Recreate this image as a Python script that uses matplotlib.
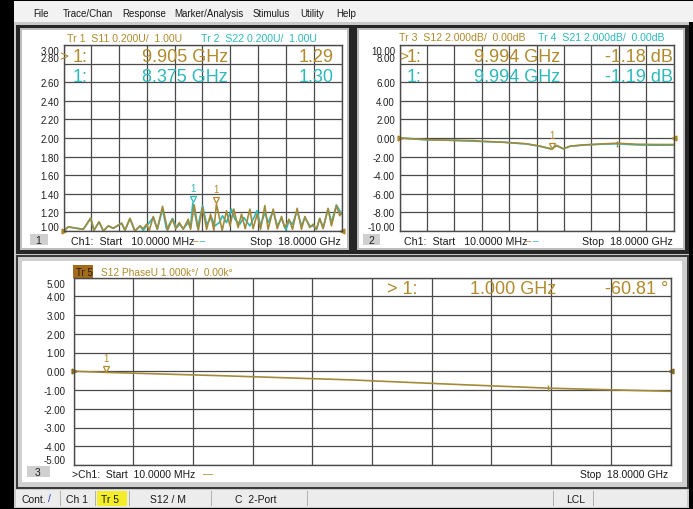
import numpy as np
import matplotlib
matplotlib.use("Agg")
import matplotlib.pyplot as plt
from matplotlib.patches import Rectangle
from matplotlib import transforms

# ---- values (frequency in GHz) ----
# window 1: S11 / S22 SWR (U)
s11_freq = [0.01, 0.32, 1.29, 1.77, 1.98, 2.31, 2.59, 2.91, 3.23, 3.77, 3.99, 4.31, 4.63,
            4.96, 5.17, 5.39, 5.56, 5.82, 6.08, 6.42, 6.75, 7.05, 7.28, 7.50, 7.76, 8.08,
            8.23, 8.47, 8.73, 9.01, 9.27, 9.53, 9.74, 9.905, 10.28, 10.56, 10.78, 11.03,
            11.31, 11.53, 11.77, 12.07, 12.28, 12.54, 12.76, 13.04, 13.25, 13.58, 13.84,
            14.12, 14.33, 14.61, 14.83, 15.13, 15.41, 15.63, 15.95, 16.16, 16.38, 16.59,
            16.81, 17.13, 17.35, 17.67, 17.89, 18.0]
s11_vals = [1.00, 1.044, 1.018, 1.138, 1.007, 1.098, 1.00, 1.055, 1.029, 1.084, 1.007, 1.135,
            1.00, 1.055, 1.025, 1.073, 1.007, 1.156, 1.018, 1.265, 1.007, 1.127, 1.025, 1.091,
            1.018, 1.127, 1.018, 1.28, 1.007, 1.255, 1.018, 1.182, 1.007, 1.29, 1.007, 1.218,
            1.055, 1.236, 1.036, 1.182, 1.025, 1.236, 1.025, 1.182, 1.018, 1.273, 1.018,
            1.236, 1.025, 1.156, 1.036, 1.127, 1.018, 1.244, 1.018, 1.156, 1.036, 1.073,
            1.018, 1.135, 1.025, 1.244, 1.055, 1.273, 1.164, 1.20]

s22_freq = [0.01, 0.32, 1.29, 1.77, 1.98, 2.31, 2.59, 2.91, 3.23, 3.77, 3.99, 4.31, 4.63,
            4.96, 5.17, 5.39, 5.82, 6.08, 6.42, 6.68, 7.07, 7.33, 7.54, 7.76, 8.08, 8.23,
            8.375, 8.69, 9.01, 9.27, 9.59, 9.81, 10.09, 10.30, 10.56, 10.88, 11.10, 11.42,
            11.68, 12.07, 12.28, 12.54, 12.76, 13.04, 13.25, 13.58, 13.84, 14.12, 14.40,
            14.61, 14.83, 15.13, 15.41, 15.63, 15.95, 16.16, 16.38, 16.59, 16.81, 17.13,
            17.35, 17.67, 17.89, 18.0]
s22_vals = [1.00, 1.044, 1.018, 1.138, 1.007, 1.098, 1.00, 1.055, 1.029, 1.084, 1.007, 1.135,
            1.00, 1.055, 1.007, 1.055, 1.145, 1.018, 1.236, 1.018, 1.135, 1.036, 1.073, 1.025,
            1.091, 1.036, 1.30, 1.036, 1.273, 1.073, 1.145, 1.055, 1.091, 1.164, 1.091, 1.236,
            1.127, 1.073, 1.145, 1.055, 1.127, 1.218, 1.055, 1.20, 1.091, 1.218, 1.055, 1.135,
            1.011, 1.109, 1.073, 1.218, 1.055, 1.145, 1.055, 1.055, 1.018, 1.135, 1.036,
            1.236, 1.091, 1.28, 1.218, 1.182]

# window 2: S12 / S21 log mag (dB)
s12_freq = [0.01, 1.79, 3.54, 4.9, 5.29, 6.83, 8.36, 9.24, 9.994, 10.33, 10.77, 11.20, 12.08,
            13.39, 14.27, 15.58, 16.89, 18.0]
s12_vals = [0.0, -0.18, -0.25, -0.28, -0.35, -0.45, -0.63, -0.88, -1.18, -0.80, -1.16, -0.88,
            -0.74, -0.63, -0.56, -0.67, -0.70, -0.70]
s21_freq = [0.01, 1.79, 3.54, 5.29, 6.83, 8.36, 9.24, 9.994, 10.33, 10.77, 11.20, 12.08,
            13.39, 14.27, 15.58, 16.89, 18.0]
s21_vals = [0.0, -0.19, -0.26, -0.36, -0.46, -0.64, -0.89, -1.19, -0.82, -1.17, -0.90,
            -0.76, -0.66, -0.62, -0.74, -0.78, -0.76]

# window 3: S12 unwrapped phase (k deg)
ph_freq = [0.01, 1.0, 4.5, 8.35, 11.5, 14.3, 16.0, 18.0]
ph_vals = [0.0, -0.061, -0.24, -0.46, -0.70, -0.90, -0.98, -1.07]

# marker readouts
mk_s11 = (9.905, 1.29)
mk_s22 = (8.375, 1.30)
mk_s12 = (9.994, -1.18)
mk_ph = (1.0, -0.06081)

menu_items = ["File", "Trace/Chan", "Response", "Marker/Analysis", "Stimulus", "Utility", "Help"]
menu_x = [33, 63, 122, 174, 253, 300, 336]

GOLD = "#B08A2C"
GOLD_TR = "#A38A3A"
TEAL = "#2DB8BB"
GRID = "#4A4A4A"

plt.rcParams["font.family"] = ["Liberation Sans", "DejaVu Sans"]

W, H = 693, 510
fig = plt.figure(figsize=(W / 100, H / 100), dpi=100, facecolor="black")


def rect(x0, y0, x1, y1, color, z=-5, ec="none"):
    fig.add_artist(Rectangle((x0 / W, 1 - y1 / H), (x1 - x0) / W, (y1 - y0) / H,
                             transform=fig.transFigure, facecolor=color, edgecolor=ec,
                             lw=0.8, zorder=z))


def ptext(x, y, s, **kw):
    kw.setdefault("va", "center")
    fig.text(x / W, 1 - y / H, s, **kw)


def new_axes(x0, y0, x1, y1, xlim, ylim):
    ax = fig.add_axes([x0 / W, 1 - y1 / H, (x1 - x0) / W, (y1 - y0) / H])
    ax.set_xlim(*xlim)
    ax.set_ylim(*ylim)
    ax.set_xticks(np.linspace(xlim[0], xlim[1], 11))
    ax.set_yticks(np.linspace(ylim[0], ylim[1], 11))
    ax.grid(True, color=GRID, lw=0.9)
    ax.tick_params(length=0, labelbottom=False, labelleft=False)
    for sp in ax.spines.values():
        sp.set_color(GRID)
        sp.set_linewidth(1)
    return ax


def ylabels(ax, gap, shifts):
    vals = ax.get_yticks()[::-1]
    base = transforms.blended_transform_factory(ax.transAxes, ax.transData)
    for i, v in enumerate(vals):
        dy = shifts.get(i, 0)
        if i == len(vals) - 1:
            dy = shifts.get(-1, 0)
        tr = transforms.offset_copy(base, fig=fig, x=-gap, y=dy, units="dots")
        ax.text(0, v, f"{v:.2f}", transform=tr, ha="right", va="center_baseline",
                fontsize=7, color="#202020", clip_on=False)


def marker(ax, f, v, color, dy=4):
    tr = transforms.offset_copy(ax.transData, fig=fig, y=dy, units="dots")
    ax.plot([f], [v], marker="v", ms=5, mfc="none", mec=color, mew=0.9, transform=tr)
    ax.annotate("1", (f, v), xytext=(0, dy + 11), textcoords="offset pixels",
                ha="center", va="center", color=color, fontsize=7)


def ref_arrows(ax, v, color):
    tr = transforms.blended_transform_factory(ax.transAxes, ax.transData)
    ax.plot([0], [v], marker=">", ms=3.5, color=color, transform=tr, clip_on=False)
    ax.plot([1], [v], marker="<", ms=3.5, color=color, transform=tr, clip_on=False)


# ---- window chrome ----
rect(14, 2, 693, 23, "#F2F2F2")
rect(14, 23, 689, 509, "#C9C9C9")
for name, x in zip(menu_items, menu_x):
    ptext(x, 14, name, fontsize=7, color="#1A1A1A")

# window 1 and 2 frames (inactive, dark)
rect(16, 26, 353, 255, "#262626")
rect(20, 29, 349, 251, "#BDBDBD")
rect(22, 31, 347, 249, "white")
rect(353, 26, 689, 255, "#262626")
rect(357, 29, 685, 251, "#BDBDBD")
rect(359, 31, 683, 249, "white")
# window 3 frame (active, light)
rect(16, 256, 689, 490, "#3A3A3A")
rect(18, 258, 687, 488, "#CFCFCF")
rect(22, 262, 682, 483, "white")
# status bar
rect(16, 491, 687, 508, "#ECECEC")
for x in [60, 95, 129, 211, 307, 553, 593]:
    rect(x, 492, x + 1, 507, "#B0B0B0", z=-4)
rect(97, 492, 127, 507, "#F4EE2A", z=-4)
ptext(21, 500, "Cont.", fontsize=7.5, color="#1A1A1A")
ptext(48, 499, "/", fontsize=7.5, color="#2040C0")
ptext(66, 500, "Ch 1", fontsize=7.5, color="#1A1A1A")
ptext(101, 500, "Tr 5", fontsize=7.5, color="#1A1A1A")
ptext(150, 500, "S12 / M", fontsize=7.5, color="#1A1A1A")
ptext(235, 500, "C  2-Port", fontsize=7.5, color="#1A1A1A")
ptext(566, 500, "LCL", fontsize=7.5, color="#1A1A1A")

# ---- window 1: SWR ----
ax1 = new_axes(63.5, 46, 341.5, 232, (0.01, 18.0), (1.0, 3.0))
ax1.plot(s22_freq, s22_vals, color=TEAL, lw=1.2)
ax1.plot(s11_freq, s11_vals, color=GOLD_TR, lw=1.2)
marker(ax1, *mk_s22, TEAL)
marker(ax1, *mk_s11, GOLD)
ref_arrows(ax1, 1.0, GOLD)
ylabels(ax1, 4, {0: -5, 1: 7, -1: 5})
ptext(67, 39, "Tr 1  S11 0.200U/  1.00U", fontsize=7.6, color=GOLD)
ptext(201, 39, "Tr 2  S22 0.200U/  1.00U", fontsize=7.6, color=TEAL)
ptext(59, 57, ">", fontsize=11, color=GOLD)
ptext(73, 57, "1:", fontsize=13, color=GOLD)
ptext(228, 57, f"{mk_s11[0]:.3f} GHz", fontsize=13, color=GOLD, ha="right")
ptext(334, 57, f"{mk_s11[1]:.2f}", fontsize=13, color=GOLD, ha="right")
ptext(73, 78, "1:", fontsize=13, color=TEAL)
ptext(228, 78, f"{mk_s22[0]:.3f} GHz", fontsize=13, color=TEAL, ha="right")
ptext(334, 78, f"{mk_s22[1]:.2f}", fontsize=13, color=TEAL, ha="right")
rect(30, 235, 48, 246, "#CFCFCF", z=-4)
ptext(35, 241, "1", fontsize=7.5, color="#202020")
ptext(71, 242, "Ch1:  Start   10.0000 MHz", fontsize=7.7, color="#1A1A1A")
ptext(193, 241, "\u2013", fontsize=7, color=GOLD)
ptext(200, 241, "\u2013", fontsize=7, color=TEAL)
ptext(341, 242, "Stop  18.0000 GHz", fontsize=7.7, color="#1A1A1A", ha="right")

# ---- window 2: log mag ----
ax2 = new_axes(399.5, 46, 673.5, 232, (0.01, 18.0), (-10.0, 10.0))
ax2.plot(s21_freq, s21_vals, color=TEAL, lw=1.2)
ax2.plot(s12_freq, s12_vals, color=GOLD_TR, lw=1.2)
marker(ax2, *mk_s12, GOLD, dy=3)
ax2.plot([14.27], [-0.62], marker="|", ms=5, color=GOLD_TR)
ref_arrows(ax2, 0.0, GOLD)
ylabels(ax2, 4.5, {0: -5, 1: 7, -1: 5})
ptext(399, 38, "Tr 3  S12 2.000dB/  0.00dB", fontsize=7.6, color=GOLD)
ptext(538, 38, "Tr 4  S21 2.000dB/  0.00dB", fontsize=7.6, color=TEAL)
ptext(399, 57, ">", fontsize=11, color=GOLD)
ptext(407, 57, "1:", fontsize=13, color=GOLD)
ptext(560, 57, f"{mk_s12[0]:.3f} GHz", fontsize=13, color=GOLD, ha="right")
ptext(673, 57, f"{mk_s12[1]:.2f} dB", fontsize=13, color=GOLD, ha="right")
ptext(407, 78, "1:", fontsize=13, color=TEAL)
ptext(560, 78, f"{mk_s12[0]:.3f} GHz", fontsize=13, color=TEAL, ha="right")
ptext(673, 78, "-1.19 dB", fontsize=13, color=TEAL, ha="right")
rect(363, 235, 380, 246, "#CFCFCF", z=-4)
ptext(368, 241, "2", fontsize=7.5, color="#202020")
ptext(404, 242, "Ch1:  Start   10.0000 MHz", fontsize=7.7, color="#1A1A1A")
ptext(526, 241, "\u2013", fontsize=7, color=GOLD)
ptext(533, 241, "\u2013", fontsize=7, color=TEAL)
ptext(673, 242, "Stop  18.0000 GHz", fontsize=7.7, color="#1A1A1A", ha="right")

# ---- window 3: phase ----
ax3 = new_axes(73.5, 278.5, 670.5, 466, (0.01, 18.0), (-5.0, 5.0))
ax3.plot(ph_freq, ph_vals, color=GOLD_TR, lw=1.2)
marker(ax3, *mk_ph, GOLD, dy=3)
ax3.plot([14.3], [-0.90], marker="|", ms=5, color=GOLD_TR)
ref_arrows(ax3, 0.0, "#8A6A20")
ylabels(ax3, 8, {0: -6, -1: 6})
rect(73, 266, 93, 279, "#A36C1C", z=-4)
ptext(76, 273, "Tr 5", fontsize=7, color="#2A1A00")
ptext(101, 273, "S12 PhaseU 1.000k\u00b0/  0.00k\u00b0", fontsize=7.3, color=GOLD)
ptext(387, 289, "> 1:", fontsize=13, color=GOLD)
ptext(556, 289, f"{mk_ph[0]:.3f} GHz", fontsize=13, color=GOLD, ha="right")
ptext(668, 289, f"{mk_ph[1] * 1000:.2f} \u00b0", fontsize=13, color=GOLD, ha="right")
rect(27, 467, 50, 478, "#CFCFCF", z=-4)
ptext(35, 473, "3", fontsize=7.5, color="#202020")
ptext(72, 475, ">Ch1:  Start  10.0000 MHz", fontsize=7.5, color="#1A1A1A")
ptext(203, 474, "\u2014", fontsize=7.5, color=GOLD)
ptext(668, 475, "Stop  18.0000 GHz", fontsize=7.5, color="#1A1A1A", ha="right")

fig.savefig("out.png", dpi=100, facecolor="black")
